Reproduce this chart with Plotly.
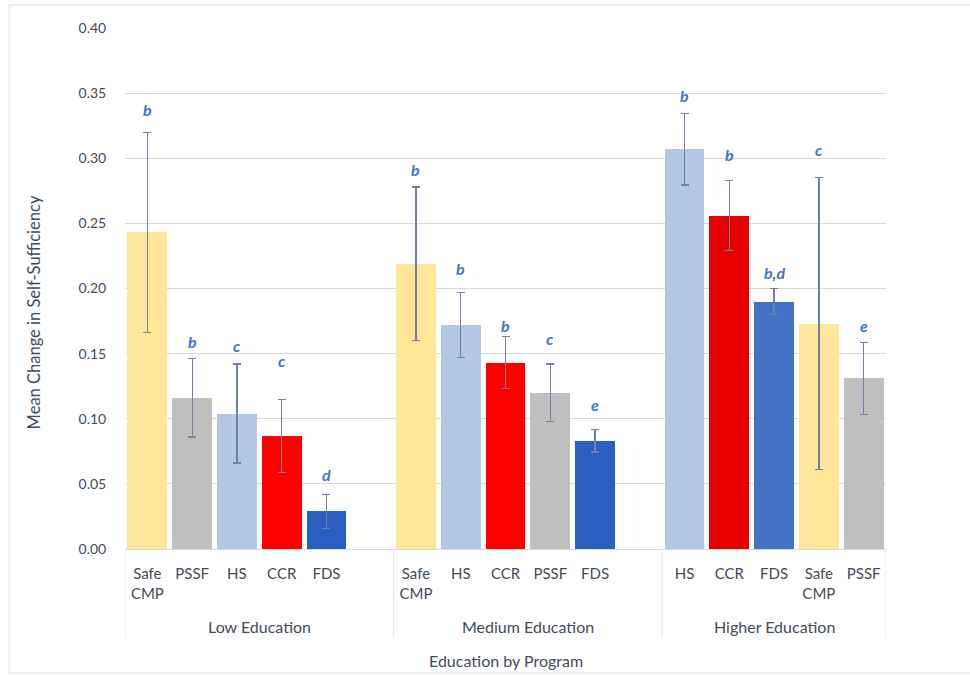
import plotly.graph_objects as go

# ---- data -------------------------------------------------------------
groups = ["Low Education", "Medium Education", "Higher Education"]

programs_low = ["Safe CMP", "PSSF", "HS", "CCR", "FDS"]
means_low = [0.243, 0.116, 0.104, 0.087, 0.029]
err_low = [0.077, 0.030, 0.038, 0.028, 0.013]
sig_low = ["b", "b", "c", "c", "d"]

programs_med = ["Safe CMP", "HS", "CCR", "PSSF", "FDS"]
means_med = [0.219, 0.172, 0.143, 0.120, 0.083]
err_med = [0.059, 0.025, 0.020, 0.022, 0.0085]
sig_med = ["b", "b", "b", "c", "e"]

programs_high = ["HS", "CCR", "FDS", "Safe CMP", "PSSF"]
means_high = [0.307, 0.256, 0.190, 0.173, 0.131]
err_high = [0.0275, 0.027, 0.010, 0.112, 0.0275]
sig_high = ["b", "b", "b,d", "c", "e"]

y_ticks = [0.00, 0.05, 0.10, 0.15, 0.20, 0.25, 0.30, 0.35, 0.40]

# ---- styling ----------------------------------------------------------
FONT = "Lato"
TEXT = "#434B57"
GRID = "#D9D9D9"
SIG_BLUE = "#4472C4"

colors_low = ["#FFE699", "#BFBFBF", "#B4C7E7", "#FF0000", "#2A5EC0"]
colors_med = ["#FFE699", "#B4C7E7", "#FF0000", "#BFBFBF", "#2A5EC0"]
colors_high = ["#B4C7E7", "#E60000", "#4472C4", "#FFE699", "#BFBFBF"]

# how far (px) each significance letter sits above its error-bar cap
lift_low = [23, 17, 19, 39, 20]
lift_med = [17, 24, 11, 26, 25]
lift_high = [18, 26, 16, 28, 17]

# slots per group (low/medium carry a trailing empty slot)
slots = [6, 6, 5]

# ---- assemble category positions -------------------------------------
blocks = [
    (programs_low, means_low, err_low, sig_low, colors_low, lift_low),
    (programs_med, means_med, err_med, sig_med, colors_med, lift_med),
    (programs_high, means_high, err_high, sig_high, colors_high, lift_high),
]

xs, ys, es, cs, labels, sigs, lifts = [], [], [], [], [], [], []
group_bounds = []
start = 0
for (progs, m, e, s, c, l), n in zip(blocks, slots):
    group_bounds.append((start - 0.5, start + n - 0.5))
    for i, p in enumerate(progs):
        xs.append(start + i)
        ys.append(m[i])
        es.append(e[i])
        cs.append(c[i])
        labels.append(p.replace(" ", "<br>"))
        sigs.append(s[i])
        lifts.append(l[i])
    start += n
total_slots = start

fig = go.Figure()
fig.add_trace(
    go.Bar(
        x=xs,
        y=ys,
        width=0.89,
        marker=dict(color=cs, line=dict(width=0)),
        error_y=dict(
            type="data",
            array=es,
            visible=True,
            color="#6F82A6",
            thickness=1.3,
            width=4,
        ),
        hoverinfo="x+y",
        showlegend=False,
    )
)

annotations = []
# significance letters above each error bar
for x, y, e, s, l in zip(xs, ys, es, sigs, lifts):
    annotations.append(
        dict(
            x=x, y=y + e, xref="x", yref="y", text=f"<b><i>{s}</i></b>",
            showarrow=False, yanchor="middle", yshift=l,
            font=dict(family=FONT, size=16, color=SIG_BLUE),
        )
    )

# group labels and separators below the axis
shapes = []
for g, (a, b) in zip(groups, group_bounds):
    annotations.append(
        dict(
            x=(a + b) / 2, y=-0.148, xref="x", yref="paper", text=g,
            showarrow=False, yanchor="middle",
            font=dict(family=FONT, size=16, color=TEXT),
        )
    )
bounds = sorted({v for ab in group_bounds for v in ab})
for v in bounds:
    shapes.append(
        dict(type="line", xref="x", yref="paper", x0=v, x1=v, y0=0, y1=-0.171,
             line=dict(color="#E4E7EC", width=1))
    )

# axis title below the group labels
annotations.append(
    dict(
        x=0.5, y=-0.214, xref="paper", yref="paper", text="Education by Program",
        showarrow=False, yanchor="middle",
        font=dict(family=FONT, size=16, color=TEXT),
    )
)
annotations.append(
    dict(
        x=-0.119, y=0.455, xref="paper", yref="paper",
        text="Mean Change in Self-Sufficiency", textangle=-90,
        showarrow=False, xanchor="center", yanchor="middle",
        font=dict(family=FONT, size=16.5, color=TEXT),
    )
)

# chart-area border
shapes.append(
    dict(type="rect", xref="paper", yref="paper",
         x0=-0.152, x1=1.2, y0=-0.238, y1=1.044,
         line=dict(color="#E6E9EE", width=1.5), fillcolor="rgba(0,0,0,0)")
)

fig.update_layout(
    width=970,
    height=675,
    margin=dict(l=125, r=84, t=28, b=126),
    paper_bgcolor="white",
    plot_bgcolor="white",
    bargap=0,
    font=dict(family=FONT, color=TEXT),
    xaxis=dict(
        range=[-0.5, total_slots - 0.5],
        tickmode="array",
        tickvals=xs,
        ticktext=labels,
        tickfont=dict(family=FONT, size=15, color=TEXT),
        showgrid=False,
        zeroline=False,
        showline=True,
        linecolor=GRID,
        linewidth=1,
        ticks="outside",
        ticklen=11,
        tickcolor="rgba(0,0,0,0)",
        fixedrange=True,
    ),
    yaxis=dict(
        range=[0, 0.40],
        tickmode="array",
        tickvals=y_ticks,
        ticktext=[f"{v:.2f}" for v in y_ticks],
        tickfont=dict(family=FONT, size=14, color=TEXT),
        showgrid=True,
        gridcolor=GRID,
        gridwidth=1,
        zeroline=False,
        showline=False,
        ticks="outside",
        ticklen=15,
        tickcolor="rgba(0,0,0,0)",
        fixedrange=True,
    ),
    annotations=annotations,
    shapes=shapes,
)

fig.write_html("out.html")
